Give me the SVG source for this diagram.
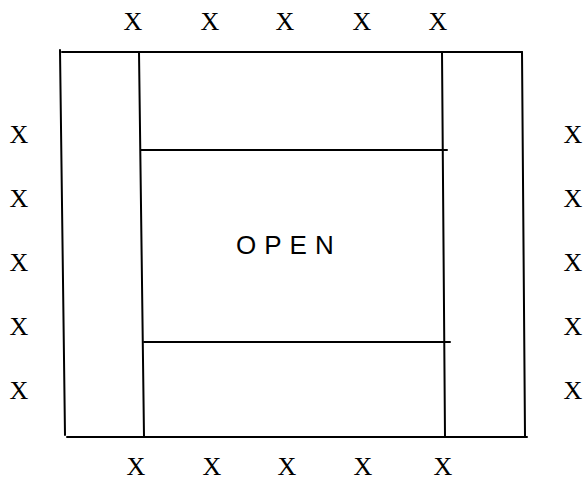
<svg xmlns="http://www.w3.org/2000/svg" width="584" height="481" viewBox="0 0 584 481">
<style>
.ln{stroke:#000;stroke-width:2;fill:none;stroke-linecap:round}
.x{font-family:"Liberation Serif",serif;font-size:26px;fill:#000;text-anchor:middle}
.open{font-family:"Liberation Sans",sans-serif;font-size:26px;fill:#000;letter-spacing:8px}
</style>
<rect width="584" height="481" fill="#fff"/>
<g id="plan">
<line class="ln" x1="62" y1="52" x2="522" y2="52"/>
<line class="ln" x1="67" y1="437" x2="527" y2="437"/>
<line class="ln" x1="60" y1="50" x2="65" y2="435"/>
<line class="ln" x1="139" y1="52" x2="144" y2="436"/>
<line class="ln" x1="442" y1="52" x2="445" y2="436"/>
<line class="ln" x1="522" y1="52" x2="525" y2="436"/>
<line class="ln" x1="141" y1="150" x2="447" y2="150"/>
<line class="ln" x1="144" y1="342" x2="450" y2="342"/>
</g>
<g id="label">
<text class="open" x="236" y="254">OPEN</text>
</g>
<g id="marks-top">
<text class="x" x="133" y="30">X</text>
<text class="x" x="210" y="30">X</text>
<text class="x" x="285" y="30">X</text>
<text class="x" x="362" y="30">X</text>
<text class="x" x="438" y="30">X</text>
</g>
<g id="marks-bottom">
<text class="x" x="136" y="475">X</text>
<text class="x" x="212" y="475">X</text>
<text class="x" x="287" y="475">X</text>
<text class="x" x="363" y="475">X</text>
<text class="x" x="443" y="475">X</text>
</g>
<g id="marks-left">
<text class="x" x="19" y="143">X</text>
<text class="x" x="19" y="207">X</text>
<text class="x" x="19" y="271">X</text>
<text class="x" x="19" y="335">X</text>
<text class="x" x="19" y="399">X</text>
</g>
<g id="marks-right">
<text class="x" x="573" y="143">X</text>
<text class="x" x="573" y="207">X</text>
<text class="x" x="573" y="271">X</text>
<text class="x" x="573" y="335">X</text>
<text class="x" x="573" y="399">X</text>
</g>
</svg>
